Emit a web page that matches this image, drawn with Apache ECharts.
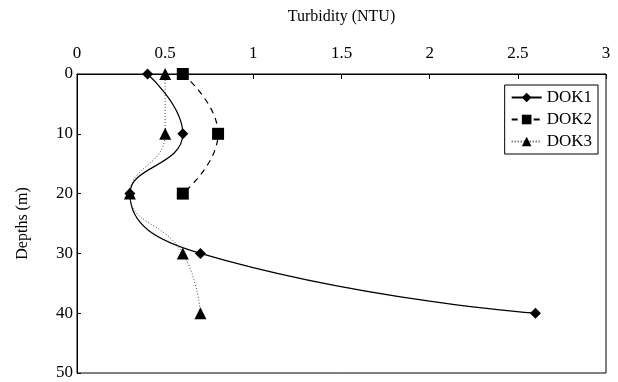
<!DOCTYPE html>
<html><head><meta charset="utf-8">
<script src="https://cdn.jsdelivr.net/npm/echarts@6/dist/echarts.min.js"></script>
<style>html,body{margin:0;padding:0;background:#fff}#c{width:618px;height:382px}</style>
</head><body><div id="c"></div>
<script>
const depths = [0, 10, 20, 30, 40];
const dok1 = [0.4, 0.6, 0.3, 0.7, 2.6];
const dok2 = [0.6, 0.8, 0.6];
const dok3 = [0.5, 0.5, 0.3, 0.6, 0.7];
const seriesNames = ['DOK1', 'DOK2', 'DOK3'];
const xTitle = 'Turbidity (NTU)';
const yTitle = 'Depths (m)';

const pairs = (vals) => vals.map((v, i) => [v, depths[i]]);
const font = 'Liberation Serif';
const chart = echarts.init(document.getElementById('c'));
chart.setOption({
  animation: false,
  backgroundColor: '#fff',
  textStyle: { fontFamily: font, color: '#000' },
  grid: { left: 77, right: 12, top: 74, bottom: 9, show: true, borderColor: '#000', borderWidth: 1 },
  xAxis: {
    type: 'value', position: 'top', min: 0, max: 3, interval: 0.5,
    name: xTitle, nameLocation: 'middle', nameGap: 49,
    nameTextStyle: { fontFamily: font, fontSize: 16, color: '#000' },
    axisLine: { show: true, lineStyle: { color: '#000', width: 1 } },
    axisTick: { show: true, inside: true, length: 5, lineStyle: { color: '#000' } },
    axisLabel: { fontFamily: font, fontSize: 17, color: '#000', margin: 12 },
    splitLine: { show: false }
  },
  yAxis: {
    type: 'value', inverse: true, min: 0, max: 50, interval: 10,
    name: yTitle, nameLocation: 'middle', nameGap: 46, nameRotate: 90,
    nameTextStyle: { fontFamily: font, fontSize: 16, color: '#000' },
    axisLine: { show: true, lineStyle: { color: '#000', width: 1 } },
    axisTick: { show: true, inside: true, length: 4, lineStyle: { color: '#000' } },
    axisLabel: { fontFamily: font, fontSize: 17, color: '#000', margin: 4 },
    splitLine: { show: false }
  },
  legend: {
    orient: 'vertical', right: 20, top: 85,
    backgroundColor: '#fff', borderColor: '#000', borderWidth: 1,
    padding: [4, 6, 4, 6], itemGap: 5, itemWidth: 30, itemHeight: 12,
    textStyle: { fontFamily: font, fontSize: 17, color: '#000' },
    data: seriesNames
  },
  series: [
    { name: seriesNames[0], type: 'line', data: pairs(dok1), smooth: 0.5,
      symbol: 'diamond', symbolSize: 11,
      lineStyle: { color: '#000', width: 1.2, type: 'solid' },
      itemStyle: { color: '#000' } },
    { name: seriesNames[1], type: 'line', data: pairs(dok2), smooth: 0.5,
      symbol: 'rect', symbolSize: 12,
      lineStyle: { color: '#000', width: 1.2, type: [6, 5] },
      itemStyle: { color: '#000' } },
    { name: seriesNames[2], type: 'line', data: pairs(dok3), smooth: 0.5,
      symbol: 'triangle', symbolSize: 12,
      lineStyle: { color: '#444', width: 1, type: [1, 2] },
      itemStyle: { color: '#000' } }
  ]
});
</script></body></html>
